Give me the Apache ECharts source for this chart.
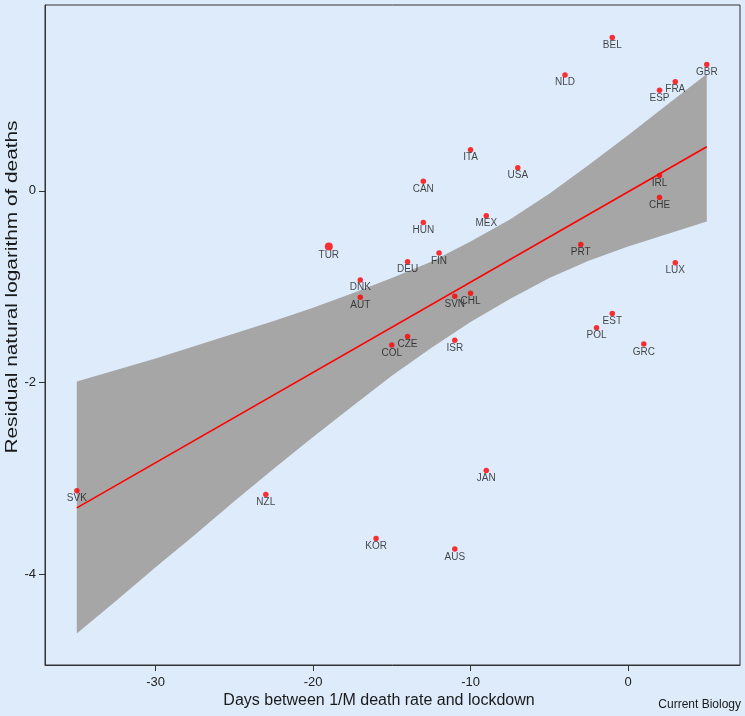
<!DOCTYPE html>
<html>
<head>
<meta charset="utf-8">
<script src="https://cdn.jsdelivr.net/npm/echarts@6/dist/echarts.min.js"></script>
<style>
  html, body { margin: 0; padding: 0; background: #DDEBFB; }
  #chart { width: 745px; height: 716px; }
</style>
</head>
<body>
<div id="chart"></div>
<script>
// Countries (label), days between 1/M death rate and lockdown, residual log deaths
const countries = ['BEL','NLD','GBR','FRA','ESP','ITA','USA','CAN','IRL','CHE','MEX','HUN','TUR','FIN','DEU','DNK','AUT','SVN','CHL','PRT','LUX','EST','POL','GRC','CZE','COL','ISR','SVK','NZL','KOR','AUS','JAN'];
const days = [-1,-4,5,3,2,-10,-7,-13,2,2,-9,-13,-19,-12,-14,-17,-17,-11,-10,-3,3,-1,-2,1,-14,-15,-11,-35,-23,-16,-11,-9];
const residuals = [1.60,1.21,1.32,1.14,1.05,0.43,0.24,0.10,0.16,-0.07,-0.26,-0.33,-0.58,-0.65,-0.74,-0.93,-1.11,-1.10,-1.07,-0.56,-0.75,-1.28,-1.43,-1.60,-1.52,-1.61,-1.56,-3.13,-3.17,-3.63,-3.74,-2.92];

// Fitted line endpoints
const fitX = [-35, 5];
const fitY = [-3.31, 0.46];

// Confidence band
const bandX = [-35, -32.5, -30, -27.5, -25, -22.5, -20, -17.5, -15, -12.5, -10, -7.5, -5, -2.5, 0, 2.5, 5];
const bandLower = [-4.62, -4.28, -3.93, -3.59, -3.24, -2.90, -2.57, -2.25, -1.93, -1.64, -1.37, -1.13, -0.91, -0.73, -0.58, -0.45, -0.32];
const bandUpper = [-1.99, -1.87, -1.75, -1.62, -1.49, -1.36, -1.22, -1.07, -0.91, -0.74, -0.53, -0.30, -0.03, 0.27, 0.58, 0.90, 1.22];

// Tick labels
const xTicks = [-30, -20, -10, 0];
const yTicks = [-4, -2, 0];

const FONT = '"Liberation Sans", Arial, Helvetica, sans-serif';
const chart = echarts.init(document.getElementById('chart'));

const scatterData = countries.map((c, i) => ({ name: c, value: [days[i], residuals[i]] }));
const fitData = fitX.map((x, i) => [x, fitY[i]]);

chart.setOption({
  backgroundColor: '#DDEBFB',
  animation: false,
  textStyle: { fontFamily: FONT },
  grid: {
    left: 45, right: 5, top: 5, bottom: 51,
    show: true, borderColor: '#333', borderWidth: 1, backgroundColor: 'transparent'
  },
  xAxis: {
    type: 'value', min: -37.02, max: 7.11,
    axisLine: { show: true, onZero: false, lineStyle: { color: '#333', width: 1 } },
    axisTick: { show: true, length: 6, customValues: xTicks, lineStyle: { color: '#333' } },
    axisLabel: { customValues: xTicks, color: '#222', fontSize: 13, margin: 11, fontFamily: FONT },
    splitLine: { show: false }
  },
  yAxis: {
    type: 'value', min: -4.95, max: 1.94,
    axisLine: { show: true, onZero: false, lineStyle: { color: '#333', width: 1 } },
    axisTick: { show: true, length: 6, customValues: yTicks, lineStyle: { color: '#333' } },
    axisLabel: { customValues: yTicks, color: '#222', fontSize: 13, margin: 9, fontFamily: FONT },
    splitLine: { show: false }
  },
  graphic: [
    { type: 'text', x: 13, y: 287, rotation: Math.PI / 2, scaleX: 1.3,
      style: { text: 'Residual natural logarithm of deaths', font: '16px ' + FONT, fill: '#1a1a1a', textAlign: 'center', textVerticalAlign: 'middle' } },
    { type: 'text', x: 379, y: 701,
      style: { text: 'Days between 1/M death rate and lockdown', font: '16px ' + FONT, fill: '#1a1a1a', textAlign: 'center', textVerticalAlign: 'middle' } },
    { type: 'text', x: 741, y: 705,
      style: { text: 'Current Biology', font: '12px ' + FONT, fill: '#1a1a1a', textAlign: 'right', textVerticalAlign: 'middle' } }
  ],
  series: [
    {
      type: 'custom', name: 'band', silent: true, z: 1,
      data: [0],
      renderItem: function (params, api) {
        const pts = [];
        for (let i = 0; i < bandX.length; i++) pts.push(api.coord([bandX[i], bandUpper[i]]));
        for (let i = bandX.length - 1; i >= 0; i--) pts.push(api.coord([bandX[i], bandLower[i]]));
        return { type: 'polygon', shape: { points: pts }, style: { fill: '#A6A6A6', stroke: null } };
      }
    },
    {
      type: 'line', name: 'fit', data: fitData, symbol: 'none',
      lineStyle: { color: '#FF0000', width: 1.6 }, z: 3, silent: true
    },
    {
      type: 'scatter', name: 'countries', data: scatterData,
      symbolSize: (v, p) => p.name === 'TUR' ? 8 : 5.5,
      itemStyle: { color: '#FF0000' }, z: 4,
      label: {
        show: true, position: 'bottom', distance: 0, formatter: '{b}',
        color: '#1a1a1a', fontSize: 10, fontFamily: FONT
      },
      labelLayout: { hideOverlap: false }
    }
  ]
});
</script>
</body>
</html>
